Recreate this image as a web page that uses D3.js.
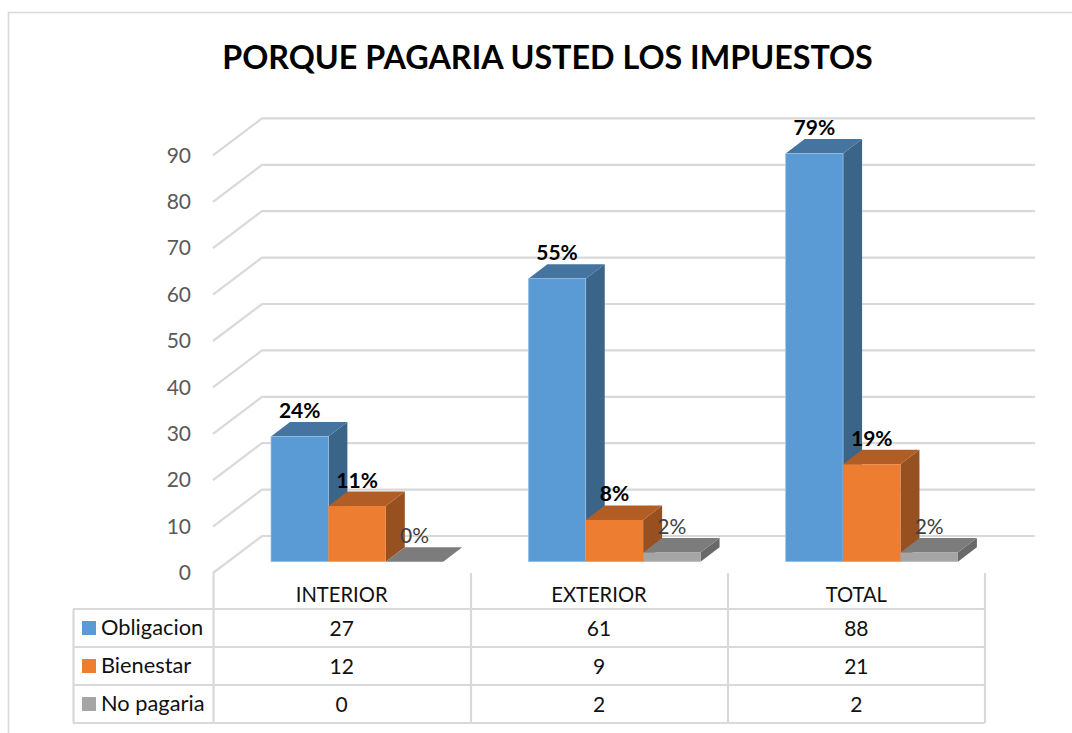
<!DOCTYPE html>
<html><head><meta charset="utf-8">
<script src="https://cdn.jsdelivr.net/npm/d3@7/dist/d3.min.js"></script>
<style>html,body{margin:0;background:#fff}svg{display:block}text{font-family:Lato,"Open Sans",sans-serif}</style>
</head><body><svg id="c" width="1072" height="733"></svg>
<script>
const title = "PORQUE PAGARIA USTED LOS IMPUESTOS";
const categories = ["INTERIOR","EXTERIOR","TOTAL"];
const seriesNames = ["Obligacion","Bienestar","No pagaria"];
const obligacion = [27,61,88];
const bienestar = [12,9,21];
const noPagaria = [0,2,2];
const pctObligacion = ["24%","55%","79%"];
const pctBienestar = ["11%","8%","19%"];
const pctNoPagaria = ["0%","2%","2%"];
const yTicks = [0,10,20,30,40,50,60,70,80,90];

const colors = [
 {front:"#5b9bd5",top:"#44749f",side:"#3a6488",edge:"#9cc3e5"},
 {front:"#ed7d31",top:"#b25d25",side:"#97501f",edge:"none"},
 {front:"#a5a5a5",top:"#7c7c7c",side:"#696969",edge:"none"}];
const values=[obligacion,bienestar,noPagaria], pcts=[pctObligacion,pctBienestar,pctNoPagaria];
const svg=d3.select("#c");
const grid="#d9d9d9";
// frame: left and top edges only, the right edge is cropped away
svg.append("path").attr("d","M8.5,733V12.5H1072").attr("fill","none").attr("stroke",grid).attr("stroke-width",1.6);
svg.append("text").attr("x",547.5).attr("y",69).attr("text-anchor","middle").attr("font-size",32.3).attr("font-weight",700).attr("fill","#000").text(title);

const y=d3.scaleLinear().domain([0,90]).range([573,155.4]);
const x0=d3.scaleBand().domain(categories).range([213,985]);
const backDx=49, backDy=-37, barDx=19, barDy=-14.5, barOffY=-11.3;
const xRight=1035;
// gridlines
svg.append("g").selectAll("path").data(yTicks).join("path")
 .attr("d",d=>`M${213},${y(d)}L${213+backDx},${y(d)+backDy}H${xRight}`)
 .attr("fill","none").attr("stroke",grid).attr("stroke-width",2.2);
// axis labels
const ax=svg.append("g").attr("transform","translate(191,0)").call(d3.axisLeft(y).tickValues(yTicks).tickSize(0).tickPadding(0));
ax.select(".domain").remove();
ax.selectAll("text").attr("font-size",21).attr("fill","#595959").style("font-family","Lato");
// bars
const barW=57.4, groupOff=58;
const xs=(c,s)=>x0(c)+groupOff+s*barW;
seriesNames.forEach((n,s)=>{
 const g=svg.append("g");
 categories.forEach((c,i)=>{
  const v=values[s][i], xl=xs(c,s), xr=xl+barW, yb=y(0)+barOffY, yt=y(v)+barOffY;
  g.append("path").attr("d",`M${xr},${yb}L${xr+barDx},${yb+barDy}V${yt+barDy}L${xr},${yt}Z`).attr("fill",colors[s].side);
  g.append("path").attr("d",`M${xl},${yt}L${xl+barDx},${yt+barDy}H${xr+barDx}L${xr},${yt}Z`).attr("fill",colors[s].top);
  g.append("rect").attr("x",xl).attr("y",yt).attr("width",barW).attr("height",yb-yt).attr("fill",colors[s].front)
   .attr("stroke",colors[s].edge).attr("stroke-width",0.7);
 });
});
// data labels
seriesNames.forEach((n,s)=>categories.forEach((c,i)=>{
 svg.append("text").attr("x",xs(c,s)+barW/2).attr("y",y(values[s][i])+barOffY-18.5)
  .attr("text-anchor","middle").attr("font-size",21)
  .attr("font-weight",s==2?400:700).attr("fill",s==2?"#404040":"#000").text(pcts[s][i]);
}));
// data table
const rowY=d3.scaleBand().domain(seriesNames).range([609,723]);
const tg=svg.append("g").attr("stroke",grid).attr("stroke-width",2.2).attr("fill","none");
[213.5,471,728,985].forEach(px=>tg.append("line").attr("x1",px).attr("x2",px).attr("y1",573).attr("y2",723));
tg.append("line").attr("x1",73.5).attr("x2",73.5).attr("y1",609).attr("y2",723);
[609,647,685,723].forEach(py=>tg.append("line").attr("x1",73).attr("x2",985).attr("y1",py).attr("y2",py));
categories.forEach(c=>svg.append("text").attr("x",x0(c)+x0.bandwidth()/2).attr("y",602).attr("text-anchor","middle").attr("font-size",20.2).attr("fill","#111").text(c));
seriesNames.forEach((n,s)=>{
 const yy=rowY(n), h=rowY.bandwidth();
 svg.append("rect").attr("x",82).attr("y",yy+h/2-7).attr("width",14).attr("height",14).attr("fill",colors[s].front);
 svg.append("text").attr("x",101).attr("y",yy+h/2+7).attr("font-size",21.8).attr("fill","#111").text(n);
 categories.forEach((c,i)=>svg.append("text").attr("x",x0(c)+x0.bandwidth()/2).attr("y",yy+h/2+7.5).attr("text-anchor","middle").attr("font-size",21).attr("fill","#111").text(values[s][i]));
});
</script></body></html>
